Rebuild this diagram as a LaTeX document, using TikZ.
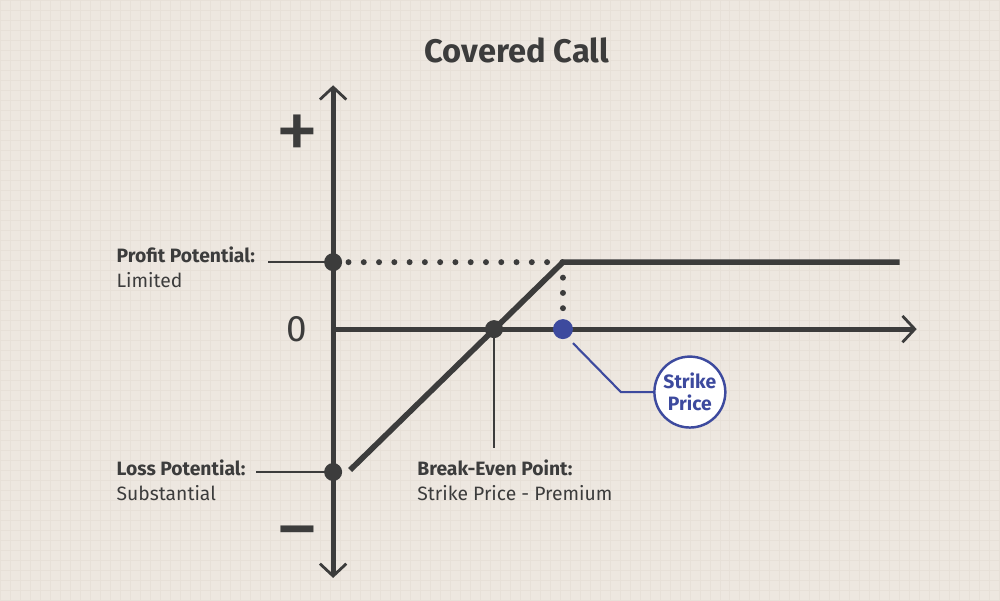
\documentclass[tikz,border=0pt]{standalone}
\usepackage{fontspec}
\setmainfont{Fira Sans}
\usetikzlibrary{arrows.meta}
\definecolor{paper}{HTML}{EDE7E0}
\definecolor{gridc}{HTML}{E7E0D8}
\definecolor{ink}{HTML}{3C3C3C}
\definecolor{strike}{HTML}{3D4A9E}
\tikzset{
  axis/.style={ink,line width=2.8pt,{Straight Barb[length=7pt,width=15pt,line width=1.6pt]}-{Straight Barb[length=7pt,width=15pt,line width=1.6pt]}},
  payoff/.style={ink,line width=3.2pt},
  leader/.style={ink,line width=1.2pt},
  dots/.style={ink,line width=3.4pt,line cap=round,dash pattern=on 0pt off 8.7pt},
  lbl/.style={anchor=west,text=ink,font=\fontsize{11}{14}\selectfont,align=left,inner sep=0pt},
  sign/.style={text=ink,font=\fontsize{50}{50}\selectfont,inner sep=0pt}
}
\begin{document}
\begin{tikzpicture}[x=0.02cm,y=-0.02cm]
\fill[paper] (0,0) rectangle (1000,600);
\foreach \x in {0,10,...,1000}
\draw[gridc,line width=0.4pt] (\x,0) -- (\x,600);
\foreach \y in {0,10,...,600}
\draw[gridc,line width=0.4pt] (0,\y) -- (1000,\y);
\node[text=ink,font=\fontsize{18.6}{20}\selectfont\bfseries] (title) at (517,50) {Covered Call};
% axes
\coordinate (ybot) at (333,578);
\coordinate (ytop) at (333,85);
\coordinate (O) at (333,329);
\coordinate (xend) at (917,329);
\draw[axis] (ybot) -- (ytop);
\draw[ink,line width=2.8pt,-{Straight Barb[length=7pt,width=15pt,line width=1.6pt]}] (O) -- (xend);
\node[sign] (plus) at (297,137) {+};
\node[text=ink,font=\fontsize{21}{22}\selectfont] (zero) at (297,329) {0};
\node[sign] (minus) at (297,542) {−};
% payoff
\coordinate (lossend) at (350,470);
\coordinate (kink) at (563,262);
\coordinate (flatend) at (900,262);
\coordinate (maxp) at (333,262);
\coordinate (maxl) at (333,472);
\coordinate (be) at (494,329);
\coordinate (K) at (563,329);
\draw[dots] (maxp) ++(15.4,0) -- (kink);
\draw[dots] (kink) ++(0,15.5) -- (K);
\draw[payoff] (lossend) -- (kink) -- (flatend);
\fill[ink] (maxp) circle[radius=0.18cm];
\fill[ink] (maxl) circle[radius=0.18cm];
\fill[ink] (be) circle[radius=0.18cm];
\fill[strike] (K) circle[radius=0.2cm];
% labels
\node[lbl] (profit) at (116,267) {\textbf{Profit Potential:}\\Limited};
\node[lbl] (loss) at (116,480) {\textbf{Loss Potential:}\\Substantial};
\node[lbl] (bep) at (417,480) {\textbf{Break-Even Point:}\\Strike Price - Premium};
\draw[leader] (268,262) -- (maxp);
\draw[leader] (256,472) -- (maxl);
\draw[leader] (be) -- (494,448);
\node[circle,draw=strike,line width=1.4pt,fill=white,minimum size=1.42cm,inner sep=0pt,
  text=strike,font=\fontsize{11}{12.5}\selectfont\bfseries,align=center] (sp) at (690,392) {Strike\\Price};
\coordinate (bend) at (621,392);
\draw[strike,line width=1.2pt] (573,343) -- (bend) -- (sp.west);
\end{tikzpicture}
\end{document}
